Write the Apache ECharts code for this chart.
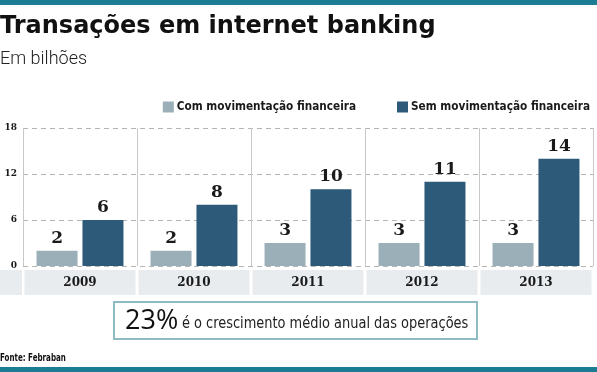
<!DOCTYPE html>
<html><head><meta charset="utf-8">
<script src="https://cdn.jsdelivr.net/npm/echarts@6/dist/echarts.min.js"></script>
<style>html,body{margin:0;padding:0;background:#fff}#c{width:597px;height:372px}</style>
</head><body><div id="c"></div>
<script>
const categories = ['2009','2010','2011','2012','2013'];
const comMov = [2,2,3,3,3];
const semMov = [6,8,10,11,14];
const yTicks = [0,6,12,18];
const seriesNames = ['Com movimentação financeira','Sem movimentação financeira'];

const chart = echarts.init(document.getElementById('c'));
const labelStyle = {show:true, position:'top', distance:4, fontFamily:'DejaVu Serif', fontWeight:'bold', fontSize:17, color:'#1a1a1a'};
chart.setOption({
  animation:false,
  backgroundColor:'#fff',
  grid:{left:23, right:4, top:128, bottom:106},
  legend:{
    top:96, right:2, itemWidth:11, itemHeight:11, itemGap:41, icon:'rect',
    textStyle:{fontFamily:'DejaVu Sans Condensed', fontWeight:'bold', fontSize:11.7, color:'#1a1a1a', padding:[0,0,0,-2]},
    data:seriesNames
  },
  xAxis:{
    type:'category', data:categories,
    axisLine:{show:false}, axisTick:{show:false},
    splitLine:{show:true, lineStyle:{color:'#c8c8c8', width:1}},
    axisLabel:{margin:4, fontFamily:'DejaVu Serif', fontWeight:'bold', fontSize:12, color:'#1a1a1a',
      backgroundColor:'#e8ecef', width:111, height:25, lineHeight:25, align:'center', verticalAlign:'top'}
  },
  yAxis:{
    type:'value', min:0, max:18, interval:6,
    axisLine:{show:false}, axisTick:{show:false},
    axisLabel:{margin:6, fontFamily:'DejaVu Serif', fontWeight:'bold', fontSize:9, color:'#1a1a1a',
      formatter:v=>yTicks.includes(v)?String(v):''},
    splitLine:{lineStyle:{color:'#b5b5b5', type:[5,4], width:1}}
  },
  series:[
    {name:seriesNames[0], type:'bar', data:comMov, barWidth:41, barGap:'12%', itemStyle:{color:'#9aafb8'}, label:labelStyle},
    {name:seriesNames[1], type:'bar', data:semMov, barWidth:41, barGap:'12%', itemStyle:{color:'#2d5a78'}, label:labelStyle}
  ],
  graphic:[
    {type:'rect', shape:{x:0,y:0,width:597,height:5}, style:{fill:'#1b7c93'}},
    {type:'text', left:0, top:15, style:{text:'Transações em internet banking', font:'bold 24px "DejaVu Sans", sans-serif', fill:'#111'}},
    {type:'text', left:0, top:50, style:{text:'Em bilhões', font:'300 18px Roboto, sans-serif', fill:'#222'}},
    {type:'rect', shape:{x:0,y:270,width:22,height:25}, style:{fill:'#e8ecef'}},
    {type:'rect', shape:{x:114,y:302,width:363,height:37}, style:{fill:'#fff', stroke:'#8fbac3', lineWidth:2}},
    {type:'text', x:125, y:321, style:{text:'23%', font:'400 27px "Open Sans", sans-serif', fill:'#111', verticalAlign:'middle'}},
    {type:'text', x:182, y:324, scaleX:0.9, style:{text:'é o crescimento médio anual das operações', font:'400 16px "DejaVu Sans Condensed", sans-serif', fill:'#222', verticalAlign:'middle'}},
    {type:'text', x:0, y:358, scaleX:0.72, style:{text:'Fonte: Febraban', font:'bold 11px "DejaVu Sans Condensed", sans-serif', fill:'#111', verticalAlign:'middle'}},
    {type:'rect', shape:{x:0,y:367,width:597,height:5}, style:{fill:'#1b7c93'}}
  ]
});
</script></body></html>
